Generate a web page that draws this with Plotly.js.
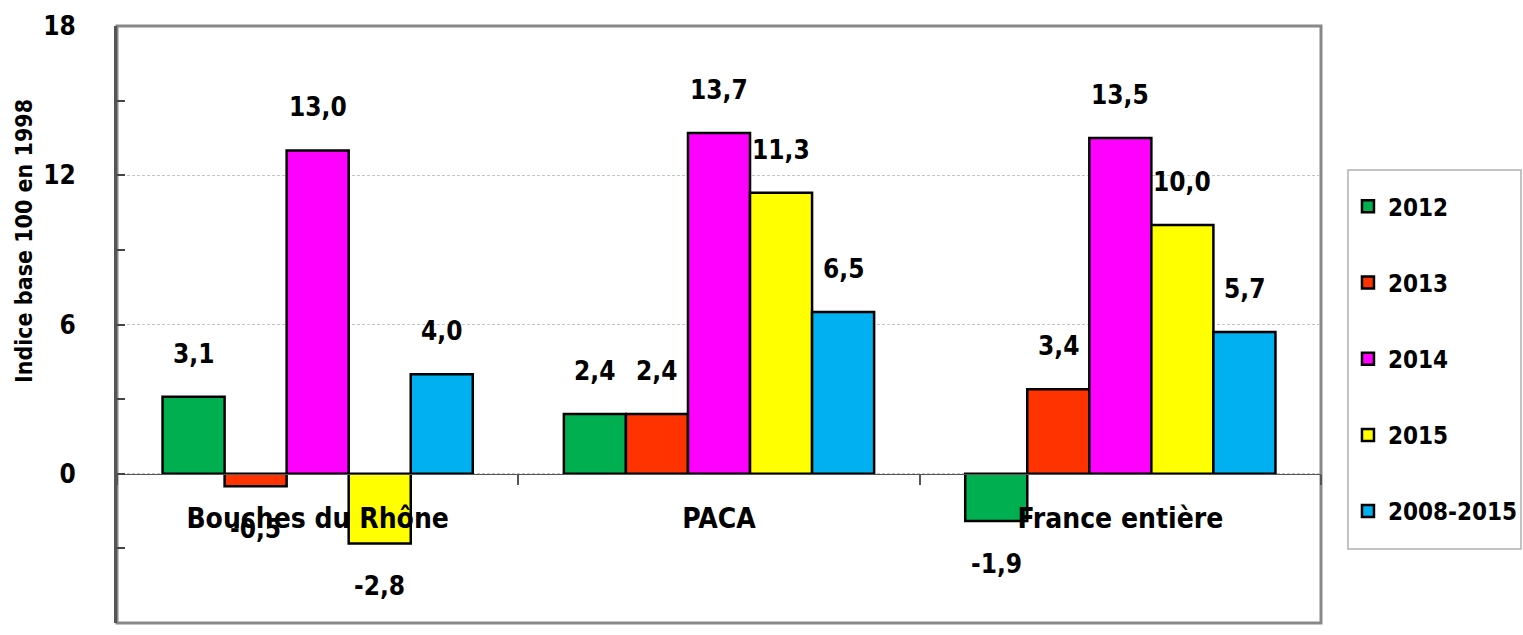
<!DOCTYPE html>
<html>
<head>
<meta charset="utf-8">
<script src="https://cdn.plot.ly/plotly-3.0.1.min.js"></script>
<style>
  html, body { margin: 0; padding: 0; background: #ffffff; }
  #chart { width: 1523px; height: 635px; }
</style>
</head>
<body>
<div id="chart"></div>
<script>
// ---- Data ----
const categories = ["Bouches du Rhône", "PACA", "France entière"];
const seriesNames = ["2012", "2013", "2014", "2015", "2008-2015"];
const values2012 = [3.1, 2.4, -1.9];
const values2013 = [-0.5, 2.4, 3.4];
const values2014 = [13.0, 13.7, 13.5];
const values2015 = [-2.8, 11.3, 10.0];
const values2008_2015 = [4.0, 6.5, 5.7];
const yTicks = [-6, 0, 6, 12, 18];
const yTitle = "Indice base 100 en 1998";

// ---- Styling ----
const colors = ["#00b050", "#ff3300", "#ff00ff", "#ffff00", "#00b0f0"];
const FONT = "'DejaVu Sans Condensed', 'Liberation Sans Narrow', 'Arial Narrow', sans-serif";
const yMin = -6, yMax = 18;
const bargap = 0.227;

const allSeries = [values2012, values2013, values2014, values2015, values2008_2015];

const traces = allSeries.map((vals, i) => ({
  type: "bar",
  name: seriesNames[i],
  x: categories,
  y: vals,
  legendgroup: "g" + i,
  marker: { color: colors[i], line: { color: "#000000", width: 2.5 } },
  hoverinfo: "x+y+name"
}));

const n = allSeries.length;
const w = (1 - bargap) / n;
const annotations = [];
allSeries.forEach((vals, i) => {
  vals.forEach((v, j) => {
    annotations.push({
      x: j + (i - (n - 1) / 2) * w,
      y: v,
      xref: "x", yref: "y",
      text: v.toFixed(1).replace(".", ","),
      showarrow: false,
      xanchor: "center", yanchor: "middle",
      yshift: v >= 0 ? 43 : -43,
      font: { family: FONT, size: 26, color: "#000000", weight: "bold" }
    });
  });
});
annotations.push({
  xref: "paper", yref: "paper",
  x: -0.0772, y: 0.64,
  text: yTitle,
  textangle: -90,
  showarrow: false,
  xanchor: "center", yanchor: "middle",
  font: { family: FONT, size: 23, color: "#000000", weight: "bold" }
});

const layout = {
  width: 1523, height: 635,
  margin: { l: 117, r: 202, t: 26, b: 12, pad: 0, autoexpand: false },
  paper_bgcolor: "#ffffff",
  plot_bgcolor: "#ffffff",
  barmode: "group",
  bargap: bargap,
  bargroupgap: 0,
  showlegend: true,
  legend: {
    x: 1.0224, xanchor: "left",
    y: 0.735, yanchor: "top",
    borderwidth: 0,
    bgcolor: "rgba(0,0,0,0)",
    traceorder: "grouped",
    tracegroupgap: 42,
    font: { family: FONT, size: 24, color: "#000000", weight: "bold" }
  },
  xaxis: {
    type: "category",
    anchor: "free",
    position: (0 - yMin) / (yMax - yMin),
    showgrid: false,
    zeroline: false,
    showline: true, linecolor: "#555555", linewidth: 1.5,
    ticks: "outside", tickson: "boundaries", ticklen: 10, tickwidth: 2, tickcolor: "#555555",
    ticklabelstandoff: 19,
    tickfont: { family: FONT, size: 28, color: "#000000", weight: "bold" },
    fixedrange: true
  },
  yaxis: {
    range: [yMin, yMax],
    tickvals: yTicks,
    ticktext: yTicks.map(String),
    showgrid: true, gridcolor: "#c4c4c4", gridwidth: 1, griddash: "3px,2px",
    zeroline: false,
    showline: true, linecolor: "#555555", linewidth: 3,
    ticks: "inside", ticklen: 8, tickwidth: 2, tickcolor: "#444444",
    minor: { dtick: 3, tick0: 0, ticks: "inside", ticklen: 8, tickwidth: 2, tickcolor: "#444444", showgrid: false },
    ticklabelstandoff: 33,
    tickfont: { family: FONT, size: 26, color: "#000000", weight: "bold" },
    fixedrange: true
  },
  shapes: [
    {
      type: "rect", xref: "paper", yref: "paper",
      x0: 0, x1: 1, y0: 0, y1: 1,
      line: { color: "#888888", width: 3 },
      fillcolor: "rgba(0,0,0,0)",
      layer: "below"
    },
    {
      type: "rect", xref: "paper", yref: "paper",
      x0: 1.0224, x1: 1.1661, y0: 0.124, y1: 0.7588,
      line: { color: "#b0b0b0", width: 1.5 },
      fillcolor: "rgba(0,0,0,0)",
      layer: "below"
    }
  ],
  annotations: annotations
};

Plotly.newPlot("chart", traces, layout, { displayModeBar: false, staticPlot: true });
</script>
</body>
</html>
